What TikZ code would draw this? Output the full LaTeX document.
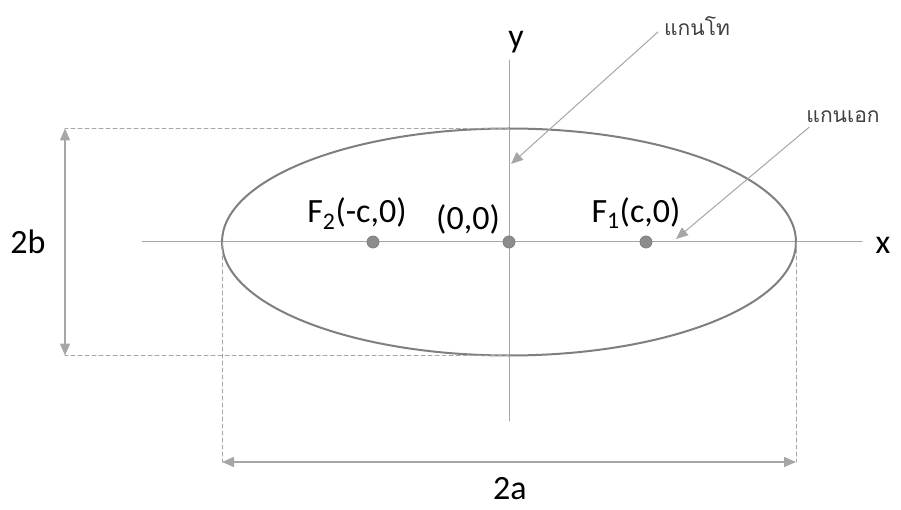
\documentclass[tikz,border=0pt]{standalone}
\usepackage{fontspec}
\setmainfont{Carlito}
\newfontfamily\thaifont[Script=Thai]{Loma}
\usetikzlibrary{arrows.meta}
\definecolor{axisgray}{HTML}{A6A6A6}
\definecolor{ellgray}{HTML}{7F7F7F}
\definecolor{dotgray}{HTML}{8C8C8C}
\tikzset{
  axis/.style={axisgray, line width=1pt},
  ell/.style={ellgray, line width=2pt},
  guide/.style={axisgray, line width=1pt, dash pattern=on 4pt off 3pt},
  span/.style={axisgray, line width=1.5pt, {Triangle[length=12pt,width=10pt]}-{Triangle[length=12pt,width=10pt]}},
  call/.style={axisgray, line width=1pt, -{Triangle[length=12pt,width=10pt]}},
  focus/.style={circle, fill=dotgray, draw=ellgray, line width=0.8pt, inner sep=0pt, minimum size=12pt},
  lbl/.style={text=black, inner sep=0pt},
  thai/.style={text=black!75, inner sep=0pt, font=\thaifont\fontsize{21}{24}\selectfont}
}
\begin{document}
\begin{tikzpicture}[x=1pt, y=-1pt, line join=round, line cap=round, font=\fontsize{34}{40}\selectfont]
  \def\a{287}
  \def\b{113.5}
  \useasboundingbox (0,0) rectangle (901,510);
  % axes
  \coordinate (O) at (509,242);
  \coordinate (xL) at (142,242);
  \coordinate (xR) at (862,242);
  \coordinate (yT) at (509,60);
  \coordinate (yB) at (509,421);
  \draw[axis] (xL) -- (xR);
  \draw[axis] (yT) -- (yB);
  \node[lbl] (xlab) at (883,245) {x};
  \node[lbl] (ylab) at (516,42) {y};
  % ellipse
  \draw[ell] (O) ellipse [x radius=\a, y radius=\b];
  \coordinate (V2) at (509-\a,242);
  \coordinate (V1) at (509+\a,242);
  \coordinate (Btop) at (509,242-\b);
  \coordinate (Bbot) at (509,242+\b);
  % guides
  \coordinate (Lt) at (65,242-\b);
  \coordinate (Lb) at (65,242+\b);
  \coordinate (Dl) at (509-\a,462);
  \coordinate (Dr) at (509+\a,462);
  \draw[guide] (Btop) -- (Lt);
  \draw[guide] (Bbot) -- (Lb);
  \draw[guide] (V2) -- (Dl);
  \draw[guide] (V1) -- (Dr);
  \draw[span] (Lt) -- (Lb);
  \draw[span] (Dl) -- (Dr);
  \node[lbl] (twob) at (28,242) {2b};
  \node[lbl] (twoa) at (510,489) {2a};
  % foci
  \node[focus] (F2) at (373,242) {};
  \node[focus] (C0) at (O) {};
  \node[focus] (F1) at (646,242) {};
  \node[lbl] (F2lab) at (357,214) {F\textsubscript{2}(-c,0)};
  \node[lbl] (C0lab) at (468,219) {(0,0)};
  \node[lbl] (F1lab) at (636,213) {F\textsubscript{1}(c,0)};
  % callouts
  \node[thai] (minor) at (697,26) {แกนโท};
  \node[thai] (major) at (843,117) {แกนเอก};
  \coordinate (minorTip) at (511,164);
  \coordinate (majorTip) at (676,239);
  \draw[call] ([shift={(-6,6)}]minor.west) -- (minorTip);
  \draw[call] ([shift={(3,4)}]major.south west) -- (majorTip);
\end{tikzpicture}
\end{document}
